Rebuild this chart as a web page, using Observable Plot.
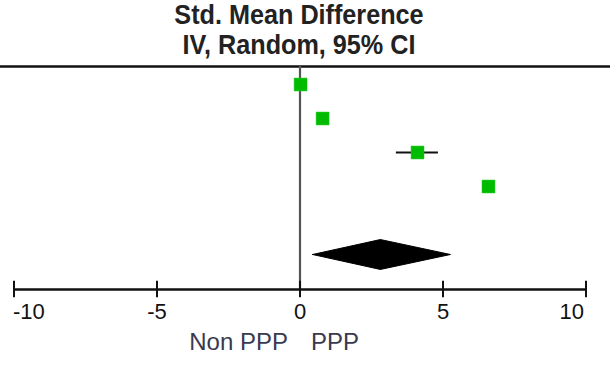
<!DOCTYPE html>
<html><head><meta charset="utf-8">
<script src="https://cdn.jsdelivr.net/npm/d3@7"></script>
<script src="https://cdn.jsdelivr.net/npm/@observablehq/plot@0.6"></script>
<style>
body{margin:0;background:#fff;width:610px;height:376px;overflow:hidden;position:relative}
#title{position:absolute;left:0;top:0;width:598px;text-align:center;font-family:"Liberation Sans Narrow","Liberation Sans",Arial,sans-serif;font-weight:bold;font-size:28px;line-height:30px;color:#222;transform:scaleX(0.9);transform-origin:299px 0}
#chart{position:absolute;left:0;top:62px}
</style></head><body>
<div id="title">Std. Mean Difference<br>IV, Random, 95% CI</div>
<div id="chart"></div>
<script>
// study rows (top to bottom)
const studies = ["Study 1", "Study 2", "Study 3", "Study 4"];
const smd    = [0.02, 0.79, 4.11, 6.59];
const ciLow  = [-0.15, 0.62, 3.37, 6.42];
const ciHigh = [0.19, 0.96, 4.84, 6.76];
// pooled estimate (diamond)
const pooledEst = 2.81;
const pooledLow = 0.44;
const pooledHigh = 5.26;
// axis
const tickValues = [-10, -5, 0, 5, 10];
const tickLabels = ["-10", "-5", "0", "5", "10"];
const favourLabels = ["Non PPP", "PPP"];

const rows = studies.map((s, i) => ({study: s, row: i, est: smd[i], lo: ciLow[i], hi: ciHigh[i]}));
const pooledRow = 5;
const topRow = -0.53;
const axisRow = 6.03;
const tickHalf = 0.24;
const dh = 0.44;
const diamond = [
  {x: pooledLow, y: pooledRow},
  {x: pooledEst, y: pooledRow - dh},
  {x: pooledHigh, y: pooledRow},
  {x: pooledEst, y: pooledRow + dh},
  {x: pooledLow, y: pooledRow}
];
const ticks = tickValues.map((v, i) => ({v, label: tickLabels[i], i}));
const favours = [{x: 0, label: favourLabels[0], side: -1}, {x: 0, label: favourLabels[1], side: 1}];

const fontFam = "'Liberation Sans', Arial, sans-serif";
const plot = Plot.plot({
  width: 610,
  height: 314,
  margin: 0,
  x: {domain: [-10, 10], range: [13.5, 585.5], axis: null},
  y: {domain: [0, 5], range: [22, 192], axis: null},
  style: {fontFamily: fontFam, background: "white", overflow: "visible"},
  marks: [
    Plot.ruleY([topRow], {stroke: "#111", strokeWidth: 2.5}),
    Plot.ruleX([0], {y1: topRow, y2: axisRow, stroke: "#555", strokeWidth: 2.2}),
    Plot.ruleY([axisRow], {x1: -10, x2: 10, stroke: "#111", strokeWidth: 2.5}),
    Plot.ruleX(ticks, {x: "v", y1: axisRow - tickHalf, y2: axisRow + tickHalf, stroke: "#111", strokeWidth: 2}),
    Plot.text(ticks.filter(d => d.i > 0 && d.i < ticks.length - 1), {x: "v", y: axisRow, text: "label", dy: 22, fontSize: 22, fill: "#111", textAnchor: "middle"}),
    Plot.text(ticks.filter(d => d.i === 0), {x: "v", y: axisRow, text: "label", dy: 22, dx: -1, fontSize: 22, fill: "#111", textAnchor: "start", letterSpacing: 1}),
    Plot.text(ticks.filter(d => d.i === ticks.length - 1), {x: "v", y: axisRow, text: "label", dy: 22, dx: -2, fontSize: 22, fill: "#111", textAnchor: "end"}),
    Plot.text(favours.filter(d => d.side < 0), {x: "x", y: axisRow, text: "label", dy: 53, dx: -12, fontSize: 24, fill: "#3a3a4e", textAnchor: "end", letterSpacing: 0.5}),
    Plot.text(favours.filter(d => d.side > 0), {x: "x", y: axisRow, text: "label", dy: 53, dx: 11, fontSize: 24, fill: "#3a3a4e", textAnchor: "start"}),
    Plot.ruleY(rows, {y: "row", x1: "lo", x2: "hi", stroke: "#111", strokeWidth: 2}),
    Plot.dot(rows, {x: "est", y: "row", symbol: "square", r: 7.3, fill: "#00bb00", stroke: "#22cc22", strokeWidth: 0.5}),
    Plot.line(diamond, {x: "x", y: "y", fill: "#000", stroke: "#000", strokeWidth: 1, curve: "linear"})
  ]
});
document.getElementById("chart").appendChild(plot);
</script>
</body></html>
